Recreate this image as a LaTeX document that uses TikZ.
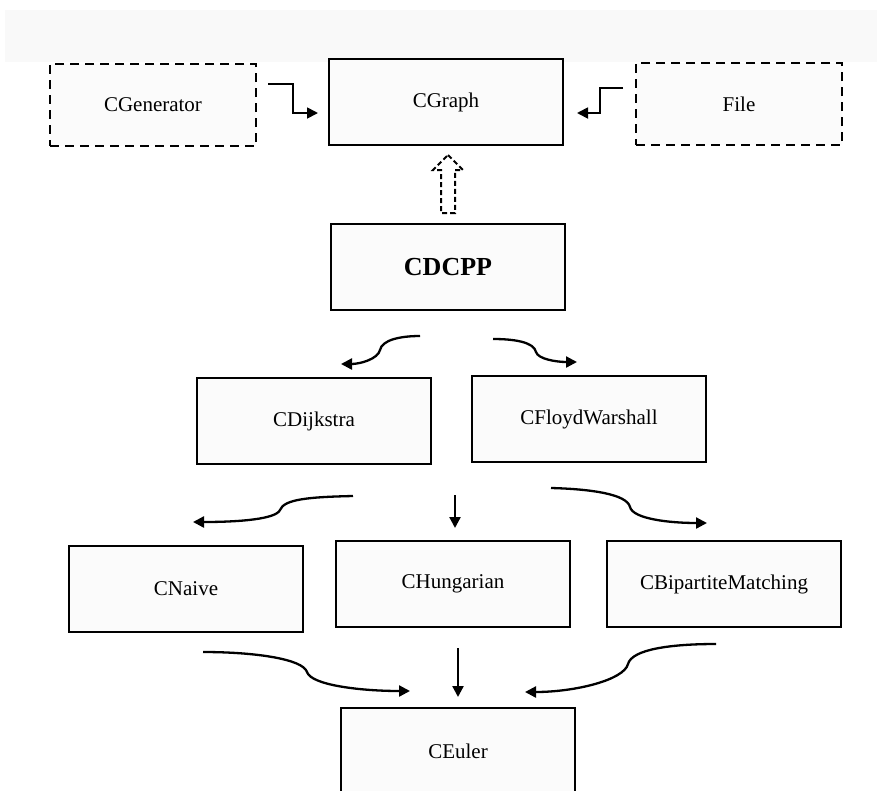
\documentclass[tikz,border=0pt]{standalone}
\usepackage{fontspec}
\setmainfont{Liberation Serif}
\usetikzlibrary{arrows.meta}

\begin{document}
\begin{tikzpicture}[x = 1pt, y = -1pt, line width = 2.3pt,
		cls/.style = {draw, line width = 2.8pt, fill = gray!3, minimum width = 234pt,
			minimum height = 86pt, font = \fontsize{21}{25}\selectfont},
		src/.style = {cls, dash pattern = on 9pt off 6pt, minimum width = 206pt, minimum height = 82pt},
		link/.style = {-{Triangle[length = 11pt, width = 11pt]}}]
		\useasboundingbox (0,0) rectangle (877,790);
		\fill [gray!5] (5,10) rectangle (877,62);

		\node [src] (gen) at (153,105) {CGenerator};
		\node [cls] (graph) at (446,102) {CGraph};
		\node [src] (file) at (739,104) {File};
		\node [cls, font = \fontsize{26}{30}\selectfont\bfseries] (dcpp) at (448,267) {CDCPP};
		\node [cls] (dij) at (314,421) {CDijkstra};
		\node [cls] (floyd) at (589,419) {CFloydWarshall};
		\node [cls] (naive) at (186,589) {CNaive};
		\node [cls] (hung) at (453,584) {CHungarian};
		\node [cls] (bip) at (724,584) {CBipartiteMatching};
		\node [cls] (euler) at (458,751) {CEuler};

		% free ends of the connectors
		\coordinate (gen-o) at (268,84);   \coordinate (gen-i) at (318,113);
		\coordinate (file-o) at (623,88);  \coordinate (file-i) at (577,113);
		\coordinate (dcpp-l) at (420,336); \coordinate (dij-i) at (341,364);
		\coordinate (dcpp-r) at (493,339); \coordinate (floyd-i) at (577,362);
		\coordinate (mid-l) at (353,496);  \coordinate (naive-i) at (193,522);
		\coordinate (mid-c) at (455,495);  \coordinate (hung-i) at (455,528);
		\coordinate (mid-r) at (551,488);  \coordinate (bip-i) at (707,523);
		\coordinate (low-l) at (203,652);  \coordinate (euler-l) at (410,691);
		\coordinate (low-c) at (458,648);  \coordinate (euler-c) at (458,697);
		\coordinate (low-r) at (716,644);  \coordinate (euler-r) at (525,692);

		\draw [link, line width = 1.8pt] (gen-o) -- (293,84) -- (293,113) -- (gen-i);
		\draw [link, line width = 1.8pt] (file-o) -- (600,88) -- (600,113) -- (file-i);

		\draw [dash pattern = on 5pt off 3pt, line width = 2pt]
			(448,155) -- (463,170) -- (455,170) -- (455,213) -- (441,213)
			-- (441,170) -- (433,170) -- cycle;

		\draw [link] (dcpp-l) .. controls (400,336) and (382,340) .. (380,350)
			.. controls (378,359) and (360,364) .. (dij-i);
		\draw [link] (dcpp-r) .. controls (514,339) and (534,342) .. (536,352)
			.. controls (538,359) and (556,362) .. (floyd-i);

		\draw [link] (mid-l) .. controls (310,497) and (284,499) .. (280,510)
			.. controls (276,519) and (240,522) .. (naive-i);
		\draw [link] (mid-c) -- (hung-i);
		\draw [link] (mid-r) .. controls (590,489) and (627,494) .. (630,507)
			.. controls (633,519) and (670,523) .. (bip-i);

		\draw [link] (low-l) .. controls (255,652) and (303,659) .. (307,672)
			.. controls (311,685) and (360,691) .. (euler-l);
		\draw [link] (low-c) -- (euler-c);
		\draw [link] (low-r) .. controls (672,644) and (632,649) .. (628,664)
			.. controls (624,680) and (575,692) .. (euler-r);
	\end{tikzpicture}
\end{document}
